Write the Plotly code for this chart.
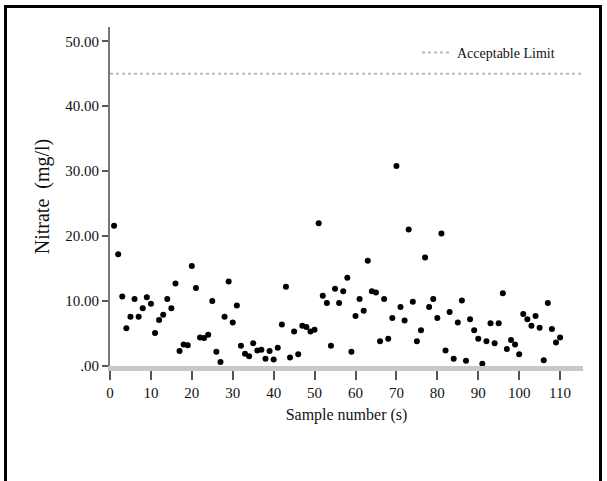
import plotly.graph_objects as go

sample_number = list(range(1, 111))
nitrate = [
    21.6, 17.2, 10.7, 5.8, 7.6, 10.3, 7.6, 8.9, 10.6, 9.6,
    5.1, 7.1, 7.9, 10.3, 8.9, 12.7, 2.3, 3.3, 3.2, 15.4,
    12.0, 4.4, 4.3, 4.8, 10.0, 2.2, 0.6, 7.6, 13.0, 6.7,
    9.3, 3.1, 1.9, 1.5, 3.5, 2.4, 2.5, 1.1, 2.3, 1.0,
    2.8, 6.4, 12.2, 1.3, 5.3, 1.8, 6.2, 6.0, 5.3, 5.6,
    22.0, 10.8, 9.7, 3.1, 11.9, 9.7, 11.5, 13.6, 2.2, 7.7,
    10.3, 8.5, 16.2, 11.5, 11.3, 3.8, 10.3, 4.2, 7.4, 30.8,
    9.1, 7.0, 21.0, 9.9, 3.8, 5.5, 16.7, 9.1, 10.3, 7.4,
    20.4, 2.4, 8.3, 1.1, 6.7, 10.1, 0.8, 7.2, 5.5, 4.2,
    0.35, 3.8, 6.6, 3.5, 6.6, 11.2, 2.6, 4.0, 3.3, 1.8,
    8.0, 7.2, 6.2, 7.7, 5.9, 0.9, 9.7, 5.7, 3.6, 4.4,
]
acceptable_limit = 45
y_tick_values = [0, 10, 20, 30, 40, 50]
y_tick_labels = [".00", "10.00", "20.00", "30.00", "40.00", "50.00"]
x_tick_values = list(range(0, 111, 10))

X_MAX = 115.6
Y_MAX = 52.2
FONT = "Liberation Serif"

fig = go.Figure()
fig.add_trace(go.Scatter(
    x=[0, X_MAX], y=[acceptable_limit, acceptable_limit],
    mode="lines", name="Acceptable Limit",
    line=dict(color="#b8b8b8", width=2, dash="dot"),
    showlegend=True, hoverinfo="skip",
))
fig.add_trace(go.Scatter(
    x=sample_number, y=nitrate, mode="markers",
    marker=dict(color="black", size=6),
    showlegend=False, cliponaxis=False,
))

# plot area: x 110..583, y 27..366
L, R, T, B = 110, 583, 27, 366
W, H = R - L, B - T
def px_to_paper_x(px):
    return (px - L) / W
def px_to_paper_y(py):
    return (B - py) / H

fig.add_shape(type="rect", xref="paper", yref="paper",
              x0=px_to_paper_x(5.5), x1=px_to_paper_x(600.5),
              y0=px_to_paper_y(500), y1=px_to_paper_y(6.5),
              line=dict(color="black", width=3), fillcolor="rgba(0,0,0,0)",
              layer="above")

fig.update_layout(
    width=607, height=481,
    margin=dict(l=L, r=607 - R, t=T, b=481 - B, autoexpand=False),
    paper_bgcolor="white", plot_bgcolor="white",
    font=dict(family=FONT, color="#111111", size=15),
    legend=dict(x=px_to_paper_x(560), y=px_to_paper_y(37), xanchor="right", yanchor="top",
                bgcolor="rgba(0,0,0,0)", font=dict(family=FONT, size=14, color="#111"),
                itemwidth=30),
    xaxis=dict(
        range=[0, X_MAX], tickvals=x_tick_values, showgrid=False, zeroline=False,
        showline=True, linecolor="#c8c8c8", linewidth=5, automargin=False,
        ticks="outside", ticklen=9, tickwidth=2, tickcolor="#555555",
        tickfont=dict(family=FONT, size=15),
        title=dict(text="Sample number (s)", font=dict(family=FONT, size=16), standoff=10),
    ),
    yaxis=dict(
        range=[0, Y_MAX], tickvals=y_tick_values, ticktext=y_tick_labels,
        showgrid=False, zeroline=False, automargin=False,
        showline=True, linecolor="#777777", linewidth=2,
        ticks="outside", ticklen=6, tickwidth=2, tickcolor="#555555",
        tickfont=dict(family=FONT, size=15),
        title=dict(text="Nitrate  (mg/l)", font=dict(family=FONT, size=20), standoff=10),
    ),
)

fig.write_html("out.html", config={"displayModeBar": False},
               post_script="document.body.style.margin='0';document.body.style.overflow='hidden';")
